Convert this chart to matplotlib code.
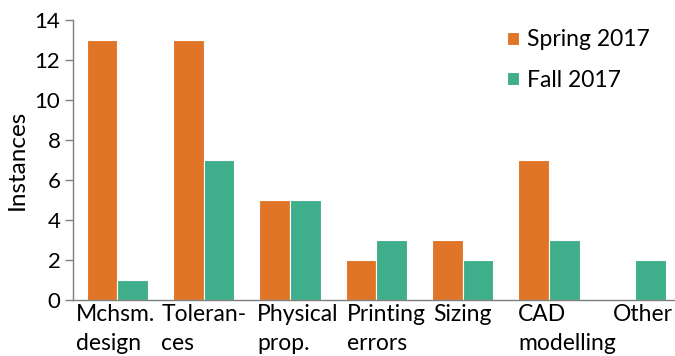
import matplotlib
matplotlib.use("Agg")
import matplotlib.pyplot as plt
import matplotlib.transforms as mtransforms
import numpy as np

categories = ["Mchsm.\ndesign", "Toleran-\nces", "Physical\nprop.", "Printing\nerrors",
              "Sizing", "CAD\nmodelling", "Other"]
spring_2017 = [13, 13, 5, 2, 3, 7, 0]
fall_2017 = [1, 7, 5, 3, 2, 3, 2]
yticks = [0, 2, 4, 6, 8, 10, 12, 14]

ORANGE = "#E07528"
GREEN = "#3EAE8B"
GREY = "#7F7F7F"

plt.rcParams["font.family"] = ["Lato", "DejaVu Sans"]

fig = plt.figure(figsize=(6.75, 3.56), dpi=100)
ax = fig.add_axes([0.108, 0.157, 0.892, 0.787])

x = np.arange(len(categories))
w = 0.355
ax.bar(x - w / 2, spring_2017, w, color=ORANGE, edgecolor="white", linewidth=0.8,
       label="Spring 2017")
ax.bar(x + w / 2, fall_2017, w, color=GREEN, edgecolor="white", linewidth=0.8,
       label="Fall 2017")

ax.set_xlim(-0.516, 6.458)
ax.set_ylim(0, 14)
ax.set_yticks(yticks)
ax.set_yticklabels([str(t) for t in yticks], fontsize=16)
ax.set_xticks(x)
ax.set_xticklabels([])

# category labels, wrapped and left-aligned, with small horizontal nudges (pixels)
label_nudge = [-2, 0, 8, 10, 0, 18, 7]
xtrans = ax.get_xaxis_transform()
for xi, name, dx in zip(x, categories, label_nudge):
    off = mtransforms.ScaledTranslation(dx / fig.dpi, -4 / fig.dpi, fig.dpi_scale_trans)
    ax.text(xi, 0, name, transform=xtrans + off, ha="center", va="top",
            multialignment="left", fontsize=16.5, linespacing=1.45)

ax.tick_params(axis="x", length=0)
ax.tick_params(axis="y", length=6, width=1, color=GREY, pad=3)

for s in ["top", "right"]:
    ax.spines[s].set_visible(False)
for s in ["left", "bottom"]:
    ax.spines[s].set_color(GREY)
    ax.spines[s].set_linewidth(1)

ax.set_ylabel("Instances", fontsize=17.5, labelpad=5)

ax.legend(loc="upper left", bbox_to_anchor=(0.687, 1.04), frameon=False, fontsize=16.5,
          handlelength=0.52, handleheight=0.52, handletextpad=0.35, labelspacing=0.85)

fig.savefig("out.png", dpi=100)
